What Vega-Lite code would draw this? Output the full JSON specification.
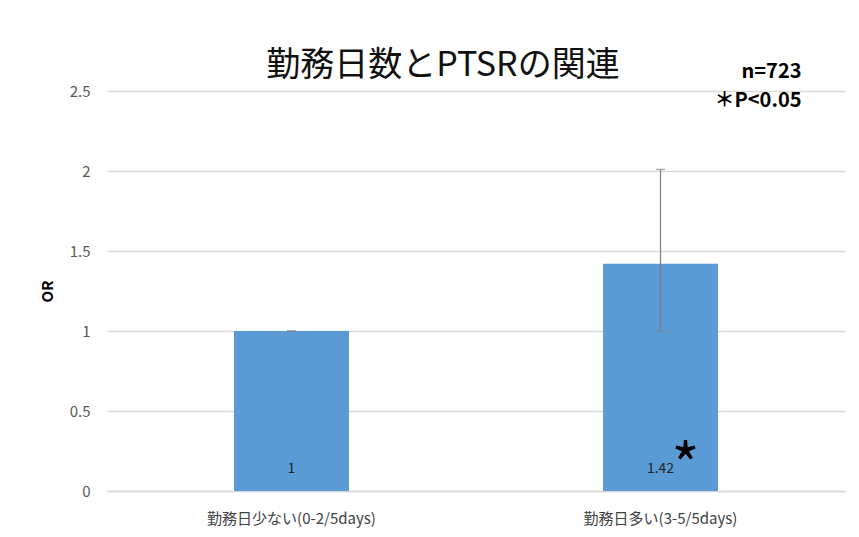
{
  "$schema": "https://vega.github.io/schema/vega-lite/v6.json",
  "width": 738,
  "height": 400,
  "autosize": {"type": "none"},
  "padding": {"left": 107, "top": 91, "right": 14, "bottom": 46},
  "background": "white",
  "config": {
    "font": "Noto Sans CJK JP",
    "view": {"stroke": null}
  },
  "title": {
    "text": "勤務日数とPTSRの関連",
    "fontSize": 34,
    "fontWeight": "normal",
    "color": "#111111",
    "anchor": "middle",
    "dx": -33,
    "dy": 15,
    "offset": -6
  },
  "datasets": {
    "bars": [
      {"group": "勤務日少ない(0-2/5days)", "OR": 1, "lo": 1, "hi": 1, "label": "1"},
      {"group": "勤務日多い(3-5/5days)", "OR": 1.42, "lo": 1.0, "hi": 2.01, "label": "1.42"}
    ],
    "notes": [
      {"group": "勤務日多い(3-5/5days)", "y": 2.62, "text": "n=723"},
      {"group": "勤務日多い(3-5/5days)", "y": 2.44, "text": "＊P<0.05"}
    ],
    "star": [
      {"group": "勤務日多い(3-5/5days)", "y": 0.13, "text": "*"}
    ]
  },
  "encoding": {
    "x": {
      "field": "group",
      "type": "nominal",
      "sort": null,
      "scale": {"paddingInner": 0, "paddingOuter": 0},
      "axis": {
        "title": null,
        "labelAngle": 0,
        "labelFontSize": 15,
        "labelColor": "#404040",
        "labelPadding": 20,
        "ticks": false,
        "domainColor": "#d9d9d9",
        "domainWidth": 1.5
      }
    }
  },
  "layer": [
    {
      "data": {"name": "bars"},
      "mark": {"type": "bar", "size": 115, "color": "#5B9BD5"},
      "encoding": {
        "y": {
          "field": "OR",
          "type": "quantitative",
          "scale": {"domain": [0, 2.5], "nice": false},
          "axis": {
            "title": "OR",
            "titleFontSize": 15,
            "titleFontWeight": "bold",
            "titleColor": "#000000",
            "titlePadding": 14,
            "values": [0, 0.5, 1, 1.5, 2, 2.5],
            "format": "~g",
            "labelFontSize": 15,
            "labelColor": "#595959",
            "labelPadding": 17,
            "ticks": false,
            "domain": false,
            "gridColor": "#d9d9d9",
            "gridWidth": 1.5
          }
        }
      }
    },
    {
      "data": {"name": "bars"},
      "mark": {"type": "rule", "color": "#7f7f7f", "strokeWidth": 1.2},
      "encoding": {
        "y": {"field": "lo", "type": "quantitative", "scale": {"domain": [0, 2.5], "nice": false}},
        "y2": {"field": "hi"}
      }
    },
    {
      "data": {"name": "bars"},
      "mark": {"type": "tick", "color": "#7f7f7f", "size": 9, "thickness": 1.2, "orient": "horizontal"},
      "encoding": {
        "y": {"field": "hi", "type": "quantitative", "scale": {"domain": [0, 2.5], "nice": false}}
      }
    },
    {
      "data": {"name": "bars"},
      "mark": {"type": "tick", "color": "#7f7f7f", "size": 9, "thickness": 1.2, "orient": "horizontal"},
      "encoding": {
        "y": {"field": "lo", "type": "quantitative", "scale": {"domain": [0, 2.5], "nice": false}}
      }
    },
    {
      "data": {"name": "bars"},
      "mark": {"type": "text", "fontSize": 14, "color": "#262626", "baseline": "middle"},
      "encoding": {
        "y": {"datum": 0.14, "type": "quantitative", "scale": {"domain": [0, 2.5], "nice": false}},
        "text": {"field": "label"}
      }
    },
    {
      "data": {"name": "star"},
      "mark": {"type": "text", "fontSize": 60, "color": "#000000", "baseline": "middle", "dx": 25},
      "encoding": {
        "y": {"field": "y", "type": "quantitative", "scale": {"domain": [0, 2.5], "nice": false}},
        "text": {"field": "text"}
      }
    },
    {
      "data": {"name": "notes"},
      "mark": {"type": "text", "fontSize": 20, "fontWeight": "bold", "color": "#000000", "baseline": "middle", "align": "right", "dx": 141},
      "encoding": {
        "y": {"field": "y", "type": "quantitative", "scale": {"domain": [0, 2.5], "nice": false}},
        "text": {"field": "text"}
      }
    }
  ]
}
